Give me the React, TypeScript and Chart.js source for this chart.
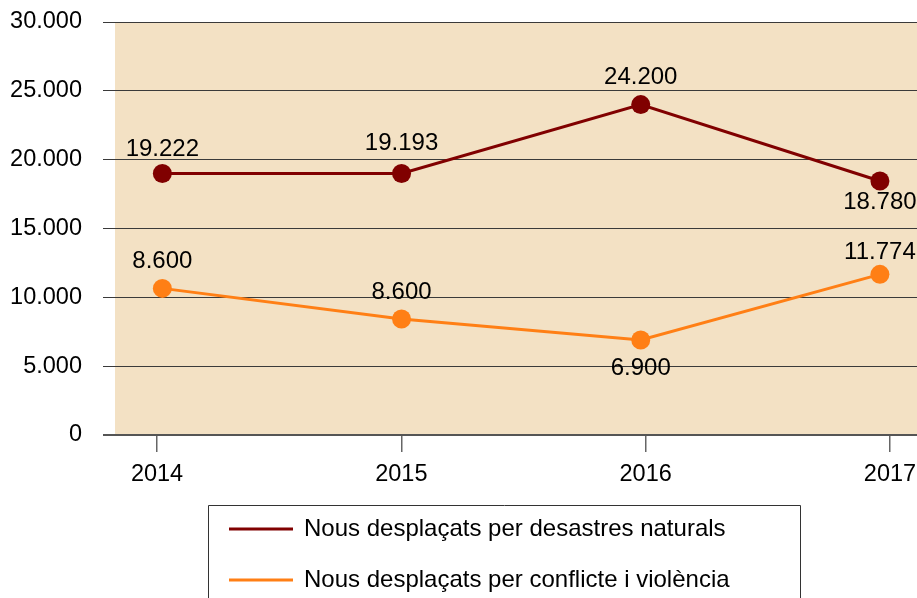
import React, { useEffect, useRef } from "react";
import { Chart, registerables } from "chart.js";

Chart.register(...registerables);

const years = [2014, 2015, 2016, 2017];
const naturalDisasters = [19000, 19000, 24000, 18450];
const conflictViolence = [10650, 8430, 6900, 11670];
const naturalLabels = ["19.222", "19.193", "24.200", "18.780"];
const conflictLabels = ["8.600", "8.600", "6.900", "11.774"];
// vertical offset (px) of each data label from its point (style only)
const naturalLabelOffset = [-24, -30, -27, 21];
const conflictLabelOffset = [-27, -27, 28, -22];
const seriesNames = [
  "Nous desplaçats per desastres naturals",
  "Nous desplaçats per conflicte i violència",
];
const seriesColors = ["#800000", "#FF7F15"];

const FONT = '"Liberation Sans", Arial, sans-serif';
const fmt = (v: number) =>
  v === 0 ? "0" : Math.round(v).toString().replace(/\B(?=(\d{3})+(?!\d))/g, ".");

const bgPlugin = {
  id: "bg",
  beforeDraw(chart: any) {
    const { ctx, chartArea } = chart;
    ctx.save();
    ctx.fillStyle = "#ffffff";
    ctx.fillRect(0, 0, chart.width, chart.height);
    ctx.fillStyle = "#F3E1C4";
    ctx.fillRect(chartArea.left, chartArea.top, chartArea.right - chartArea.left, chartArea.bottom - chartArea.top);
    ctx.restore();
  },
};

const labelPlugin = {
  id: "dataLabels",
  afterDatasetsDraw(chart: any) {
    const { ctx } = chart;
    const texts = [naturalLabels, conflictLabels];
    const offs = [naturalLabelOffset, conflictLabelOffset];
    ctx.save();
    ctx.font = `24px ${FONT}`;
    ctx.fillStyle = "#000";
    ctx.textAlign = "center";
    ctx.textBaseline = "middle";
    chart.data.datasets.forEach((_: any, di: number) => {
      const meta = chart.getDatasetMeta(di);
      meta.data.forEach((pt: any, i: number) => {
        ctx.fillText(texts[di][i], pt.x, pt.y + offs[di][i]);
      });
    });
    ctx.restore();
  },
};

const legendPlugin = {
  id: "boxLegend",
  afterDraw(chart: any) {
    const { ctx } = chart;
    const left = 208.5, top = 505.5, right = 800.5;
    ctx.save();
    ctx.strokeStyle = "#333";
    ctx.lineWidth = 1;
    ctx.beginPath();
    ctx.moveTo(left, chart.height + 5);
    ctx.lineTo(left, top);
    ctx.lineTo(right, top);
    ctx.lineTo(right, chart.height + 5);
    ctx.stroke();
    ctx.font = `24px ${FONT}`;
    ctx.textBaseline = "middle";
    ctx.textAlign = "left";
    seriesNames.forEach((name, i) => {
      const y = 529 + i * 51;
      ctx.strokeStyle = seriesColors[i];
      ctx.lineWidth = 3;
      ctx.beginPath();
      ctx.moveTo(229, y);
      ctx.lineTo(293, y);
      ctx.stroke();
      ctx.fillStyle = "#000";
      ctx.fillText(name, 304, y);
    });
    ctx.restore();
  },
};

export default function App() {
  const ref = useRef<HTMLCanvasElement>(null);
  useEffect(() => {
    document.body.style.margin = "0";
    const mk = (vals: number[]) => years.map((yr, i) => ({ x: yr, y: vals[i] }));
    const chart = new Chart(ref.current!, {
      type: "line",
      data: {
        datasets: [
          {
            label: seriesNames[0],
            data: mk(naturalDisasters),
            borderColor: seriesColors[0],
            backgroundColor: seriesColors[0],
            borderWidth: 3,
            pointRadius: 9.5,
            pointBorderWidth: 0,
            xAxisID: "x",
            clip: false,
          },
          {
            label: seriesNames[1],
            data: mk(conflictViolence),
            borderColor: seriesColors[1],
            backgroundColor: seriesColors[1],
            borderWidth: 3,
            pointRadius: 9.5,
            pointBorderWidth: 0,
            xAxisID: "x",
            clip: false,
          },
        ],
      },
      options: {
        animation: false,
        responsive: false,
        maintainAspectRatio: false,
        layout: { autoPadding: false, padding: { top: 22, right: 0, left: 0, bottom: 0 } },
        plugins: { legend: { display: false }, tooltip: { enabled: false } },
        scales: {
          x: {
            type: "linear",
            display: false,
            min: 2013.802,
            max: 2017.155,
          },
          x2: {
            type: "linear",
            position: "bottom",
            min: 2013.828,
            max: 2017.1105,
            afterFit(scale: any) {
              scale.height = 163;
              scale.paddingLeft = 0;
              scale.paddingRight = 0;
            },
            ticks: {
              stepSize: 1,
              includeBounds: false,
              padding: 8,
              color: "#000",
              font: { family: FONT, size: 23.5 },
              callback: (v: any) => String(v),
              maxRotation: 0,
            },
            grid: {
              drawOnChartArea: false,
              drawTicks: true,
              tickLength: 17,
              color: "#666",
              lineWidth: 1.5,
            },
            border: { display: false },
          },
          y: {
            min: 0,
            max: 30000,
            afterFit(scale: any) {
              scale.width = 115;
              scale.paddingTop = 0;
              scale.paddingBottom = 0;
            },
            ticks: {
              stepSize: 5000,
              padding: 21,
              color: "#000",
              font: { family: FONT, size: 23.5 },
              callback: (v: any) => fmt(Number(v)),
            },
            grid: {
              color: (c: any) => (c.tick && c.tick.value === 0 ? "#555" : "#3a3a3a"),
              lineWidth: (c: any) => (c.tick && c.tick.value === 0 ? 2 : 1),
              tickLength: 12,
              drawTicks: true,
            },
            border: { display: false },
          },
        },
      },
      plugins: [bgPlugin, labelPlugin, legendPlugin],
    });
    return () => chart.destroy();
  }, []);
  return <canvas ref={ref} width={917} height={598} style={{ display: "block" }} />;
}
